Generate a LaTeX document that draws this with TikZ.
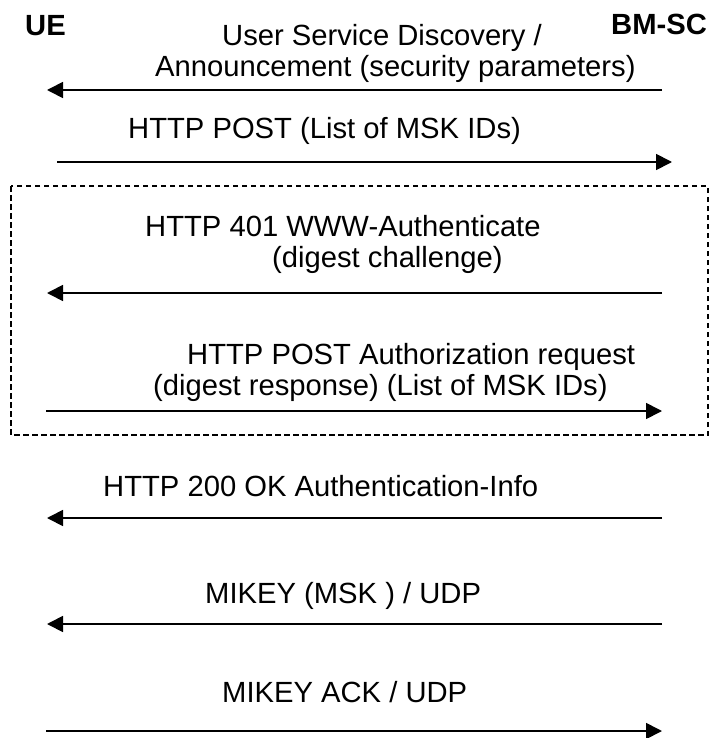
\documentclass[tikz,border=0pt]{standalone}
\usepackage{fontspec}
\setmainfont{Liberation Sans}
\usetikzlibrary{arrows.meta}
\tikzset{
  msg/.style={anchor=base west, inner sep=0pt, font=\fontsize{29.2}{34}\selectfont},
  actor/.style={anchor=base west, inner sep=0pt, font=\fontsize{29.2}{34}\selectfont\bfseries},
  flow/.style={line width=1.7pt, -{Triangle[length=16pt,width=16pt]}},
  grp/.style={line width=1.9pt, dash pattern=on 5.5pt off 3.5pt}
}
\begin{document}
\begin{tikzpicture}[x=1pt,y=-1pt]
\useasboundingbox (0,0) rectangle (718,738);
% actors
\node[actor] (ue) at (25,36) {UE};
\node[actor] (bm) at (611,35) {BM-SC};
% dashed group
\draw[grp] (11,186) rectangle (708,435);
% message 1
\node[msg] (t1a) at (222,46) {User Service Discovery /};
\node[msg] (t1b) at (155,77) {Announcement (security parameters)};
\coordinate (a1s) at (662,90); \coordinate (a1e) at (47,90);
\draw[flow] (a1s) -- (a1e);
% message 2
\node[msg] (t2) at (128,139) {HTTP POST (List of MSK IDs)};
\coordinate (a2s) at (57,162); \coordinate (a2e) at (672,162);
\draw[flow] (a2s) -- (a2e);
% message 3
\node[msg] (t3a) at (145,236) {HTTP 401 WWW-Authenticate};
\node[msg] (t3b) at (272,267) {(digest challenge)};
\coordinate (a3s) at (662,293); \coordinate (a3e) at (47,293);
\draw[flow] (a3s) -- (a3e);
% message 4
\node[msg] (t4a) at (187,364) {HTTP POST Authorization request};
\node[msg] (t4b) at (153,395) {(digest response) (List of MSK IDs)};
\coordinate (a4s) at (46,411); \coordinate (a4e) at (662,411);
\draw[flow] (a4s) -- (a4e);
% message 5
\node[msg] (t5) at (103,496) {HTTP 200 OK Authentication-Info};
\coordinate (a5s) at (662,518); \coordinate (a5e) at (47,518);
\draw[flow] (a5s) -- (a5e);
% message 6
\node[msg] (t6) at (205,603) {MIKEY (MSK ) / UDP};
\coordinate (a6s) at (662,624); \coordinate (a6e) at (47,624);
\draw[flow] (a6s) -- (a6e);
% message 7
\node[msg] (t7) at (222,702) {MIKEY ACK / UDP};
\coordinate (a7s) at (46,731); \coordinate (a7e) at (662,731);
\draw[flow] (a7s) -- (a7e);
\end{tikzpicture}
\end{document}
